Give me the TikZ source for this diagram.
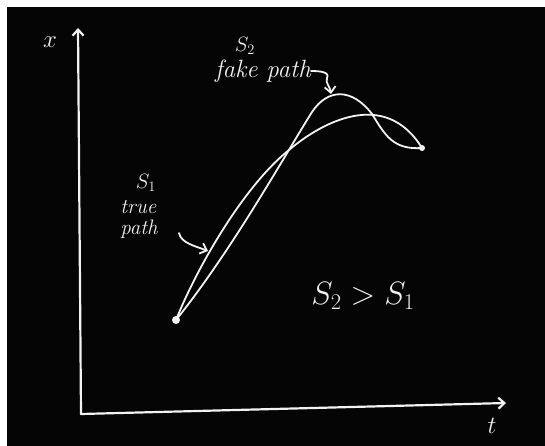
\documentclass[tikz,border=0pt]{standalone}
\usepackage{xcolor}
\usepackage{tikz}
\usetikzlibrary{arrows.meta,positioning}
\definecolor{board}{HTML}{050505}
\definecolor{chalk}{HTML}{F2F2F2}

\begin{document}
\begin{tikzpicture}[x=1pt, y=-1pt,
  chalkline/.style={chalk, line width=1.8pt, line cap=round, line join=round},
  barb/.style={-{Straight Barb[length=6pt, width=11pt]}},
  hand/.style={chalk, inner sep=0pt, font=\itshape\fontsize{25}{22}\selectfont},
  dot/.style={circle, fill=chalk, inner sep=0pt, minimum size=#1}]
  \fill[white] (0,0) rectangle (545,446);
  \fill[board] (7,7) rectangle (545,446);
  \coordinate (origin) at (81,414);
  \coordinate (xtip) at (78,28);
  \coordinate (ttip) at (506,403);
  \draw[chalkline, line width=2.2pt, barb] (origin) -- (xtip);
  \draw[chalkline, line width=2.2pt, barb] (origin) -- (ttip);
  \node[hand, font=\fontsize{24}{26}\selectfont] (xlab) at (50,42) {$x$};
  \node[hand, font=\fontsize{24}{26}\selectfont] (tlab) at (492,426) {$t$};
  \node[dot=8pt] (start) at (176,320) {};
  \node[dot=6pt] (stop) at (422,148) {};
  % true path
  \draw[chalkline] (start.center) .. controls (198,265) and (245,185) .. (289,150)
    .. controls (322,122) and (385,88) .. (stop.center);
  % fake path
  \draw[chalkline] (start.center) .. controls (232,250) and (282,160) .. (312,112)
    .. controls (328,88) and (352,88) .. (372,114)
    .. controls (385,135) and (393,150) .. (stop.center);
  \node[hand, font=\fontsize{21}{23}\selectfont] (stwo) at (245,46) {$S_2$};
  \node[hand] (fakelbl) at (263,71) {fake path};
  \node[hand, font=\fontsize{21}{23}\selectfont] (sone) at (146,183) {$S_1$};
  \node[hand, font=\itshape\fontsize{21}{21}\selectfont, align=left] (truelbl) at (139,219) {true\\path};
  \coordinate (truetail) at (179,233);
  \coordinate (fakehit) at (331,94);
  \coordinate (truehit) at (208,251);
  \draw[chalkline, barb] (fakelbl.east) .. controls ([xshift=9pt]fakelbl.east) and (330,72) .. (327,78)
    .. controls (325,83) and (330,86) .. (fakehit);
  \draw[chalkline, barb] (truetail) .. controls (181,243) and (195,246) .. (truehit);
  \node[hand, font=\fontsize{24}{26}\selectfont, scale=1.3] (compare) at (363,296) {$S_2 > S_1$};
\end{tikzpicture}
\end{document}
